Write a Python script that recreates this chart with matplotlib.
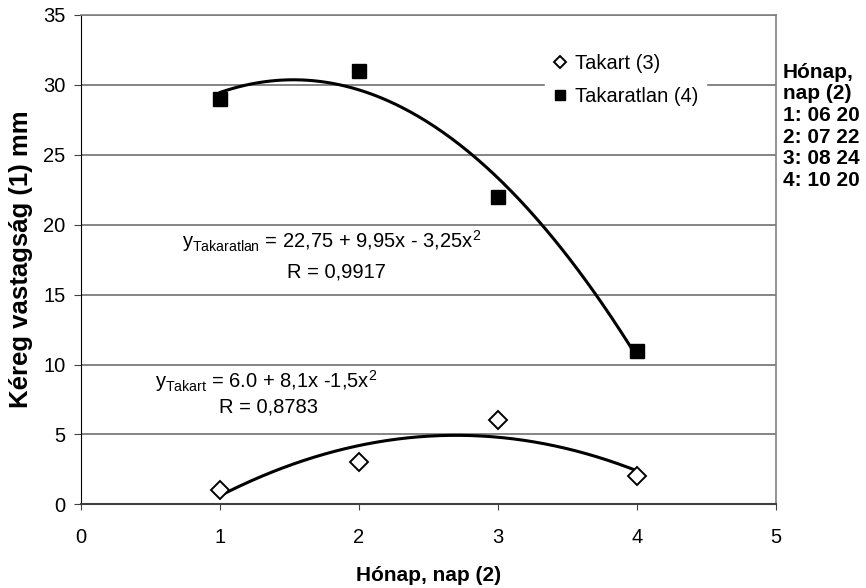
import numpy as np
import matplotlib
matplotlib.use("Agg")
import matplotlib.pyplot as plt

plt.rcParams['font.family'] = ['Liberation Sans', 'DejaVu Sans']
plt.rcParams['mathtext.fontset'] = 'custom'
plt.rcParams['mathtext.rm'] = 'Liberation Sans'
plt.rcParams['mathtext.it'] = 'Liberation Sans'

# Measurement data
months = [1, 2, 3, 4]
takart = [1, 3, 6, 2]
takaratlan = [29, 31, 22, 11]
x_ticks = [0, 1, 2, 3, 4, 5]
y_ticks = [0, 5, 10, 15, 20, 25, 30, 35]
date_lines = ["Hónap,", "nap (2)", "1: 06 20", "2: 07 22", "3: 08 24", "4: 10 20"]

fig = plt.figure(figsize=(8.66, 5.88), dpi=100)
ax = fig.add_axes([0.093, 0.1423, 0.803, 0.8322])

# second-order trend lines fitted to each series
xs = np.linspace(1, 4, 200)
for ys in (takart, takaratlan):
    coef = np.polyfit(months, ys, 2)
    ax.plot(xs, np.polyval(coef, xs), color='black', lw=2.2, zorder=3,
            solid_capstyle='round')

ax.plot(months, takart, linestyle='none', marker='D', markersize=9,
        markerfacecolor='white', markeredgecolor='black', markeredgewidth=1.4,
        label='Takart (3)', zorder=4)
ax.plot(months, takaratlan, linestyle='none', marker='s', markersize=10.5,
        markerfacecolor='black', markeredgecolor='black',
        label='Takaratlan (4)', zorder=4)

ax.set_xlim(0, 5)
ax.set_ylim(0, 35)
ax.set_xticks(x_ticks)
ax.set_yticks(y_ticks)
ax.yaxis.grid(True, color='#707070', lw=1.2)
ax.set_axisbelow(True)
for s in ('top', 'right'):
    ax.spines[s].set_color('#808080')
    ax.spines[s].set_linewidth(1.2)
ax.spines['left'].set_color('black')
ax.spines['bottom'].set_color('#404040')
ax.spines['bottom'].set_linewidth(1.5)
ax.tick_params(axis='both', labelsize=14.5, direction='out', color='#404040')
ax.tick_params(axis='x', length=4, pad=13)
ax.tick_params(axis='y', length=5, pad=6)

ax.set_xlabel('Hónap, nap (2)', fontsize=15, fontweight='bold', labelpad=14)
ax.set_ylabel('Kéreg vastagság (1) mm', fontsize=18.5, fontweight='bold',
              labelpad=7)

leg = ax.legend(loc='center left', bbox_to_anchor=(0.668, 0.867), frameon=True,
                fontsize=14.5, handletextpad=0.35, borderpad=0.35,
                labelspacing=0.72, handlelength=0.8, markerscale=0.65,
                borderaxespad=0.0)
leg.get_frame().set_edgecolor('white')
leg.get_frame().set_facecolor('white')
leg.get_frame().set_alpha(1.0)
leg.get_frame().set_boxstyle('square', pad=0.0)

ax.text(0.73, 18.35, r'y$_{\mathrm{Takaratlan}}$ = 22,75 + 9,95x - 3,25x$^{2}$',
        fontsize=14.5, ha='left', va='baseline')
ax.text(1.84, 16.2, 'R = 0,9917', fontsize=14.5, ha='center', va='baseline')
ax.text(0.536, 8.33, r'y$_{\mathrm{Takart}}$ = 6.0 + 8,1x -1,5x$^{2}$',
        fontsize=14.5, ha='left', va='baseline')
ax.text(1.35, 6.54, 'R = 0,8783', fontsize=14.5, ha='center', va='baseline')

for i, line in enumerate(date_lines):
    fig.text(783 / 866, 1 - (72 + 21.7 * i) / 588, line, fontsize=15,
             fontweight='bold', ha='left', va='center')

fig.savefig('out.png', dpi=100)
